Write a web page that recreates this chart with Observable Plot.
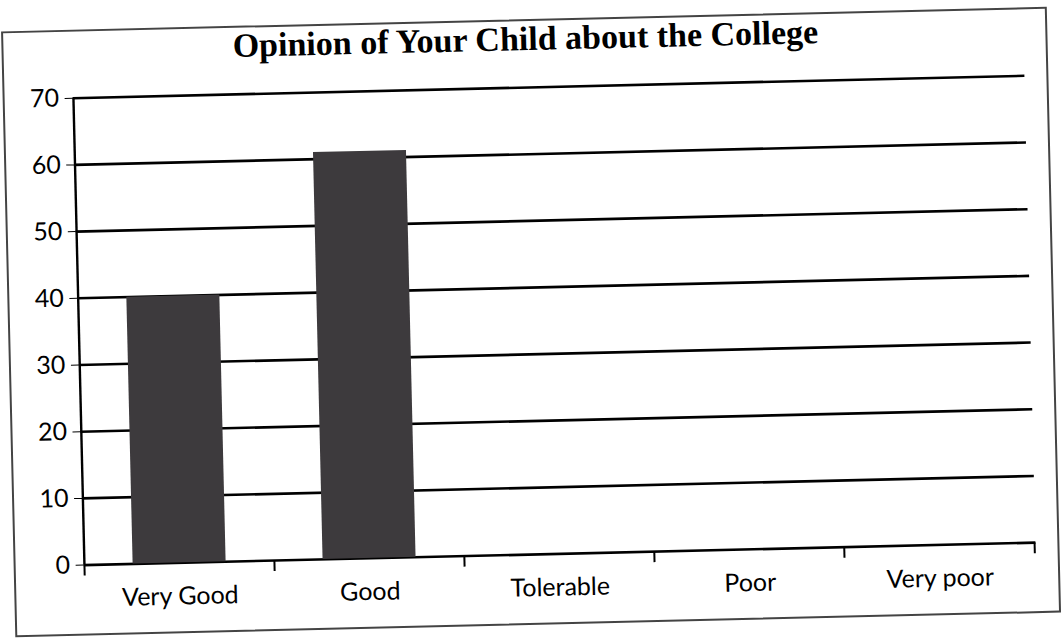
<!DOCTYPE html>
<html>
<head>
<meta charset="utf-8">
<script src="https://cdn.jsdelivr.net/npm/d3@7"></script>
<script src="https://cdn.jsdelivr.net/npm/@observablehq/plot@0.6"></script>
<style>
  html, body { margin: 0; padding: 0; background: #fff; }
  #wrap { position: relative; width: 1061px; height: 640px; overflow: hidden; transform: rotate(-1.35deg); transform-origin: 530px 320px; }
  #frame { position: absolute; left: 8px; top: 19px; width: 1046px; height: 606px; border: 2px solid #444; box-sizing: border-box; }
  #title { position: absolute; left: 0; width: 1064px; top: 20px; text-align: center; font-family: "Liberation Serif", serif; font-weight: bold; font-size: 34px; color: #000; }
  #chart { position: absolute; left: 0; top: 0; }
</style>
</head>
<body>
<div id="wrap">
  <div id="frame"></div>
  <div id="title">Opinion of Your Child about the College</div>
  <div id="chart"></div>
</div>
<script>
const categories = ["Very Good", "Good", "Tolerable", "Poor", "Very poor"];
const values = [40, 61, 0, 0, 0];
const yTicks = [0, 10, 20, 30, 40, 50, 60, 70];

const data = categories.map((c, i) => ({cat: c, value: values[i]}));

const W = 1061, H = 640, ML = 78, MR = 31, MT = 87, MB = 86;
const step = (W - ML - MR) / categories.length;

const plot = Plot.plot({
  width: W,
  height: H,
  marginLeft: ML,
  marginRight: MR,
  marginTop: MT,
  marginBottom: MB,
  style: {fontFamily: "Lato, 'Open Sans', sans-serif", fontSize: "25px", color: "#000", background: "transparent", overflow: "visible"},
  x: {domain: categories, paddingInner: 0.51, paddingOuter: 0.255, label: null},
  y: {domain: [0, 70], label: null},
  marks: [
    Plot.ruleY(yTicks, {stroke: "#000", strokeWidth: 2.6}),
    Plot.barY(data, {x: "cat", y: "value", fill: "#3d3a3d"}),
    Plot.ruleX([categories[0]], {x: d => d, dx: -step / 2, y1: 0, y2: 70, stroke: "#000", strokeWidth: 2.4}),
    Plot.ruleX(categories, {x: d => d, dx: -step / 2, y1: 0, y2: 0, insetBottom: -11, stroke: "#000", strokeWidth: 2}),
    Plot.ruleX([categories[categories.length - 1]], {x: d => d, dx: step / 2, y1: 0, y2: 0, insetBottom: -11, stroke: "#000", strokeWidth: 2}),
    Plot.axisY({ticks: yTicks, tickSize: 8, tickPadding: 6, tickFormat: d => String(d), fontSize: 25, label: null}),
    Plot.axisX({tickSize: 0, tickPadding: 24, fontSize: 25, label: null})
  ]
});
document.getElementById("chart").appendChild(plot);
</script>
</body>
</html>
